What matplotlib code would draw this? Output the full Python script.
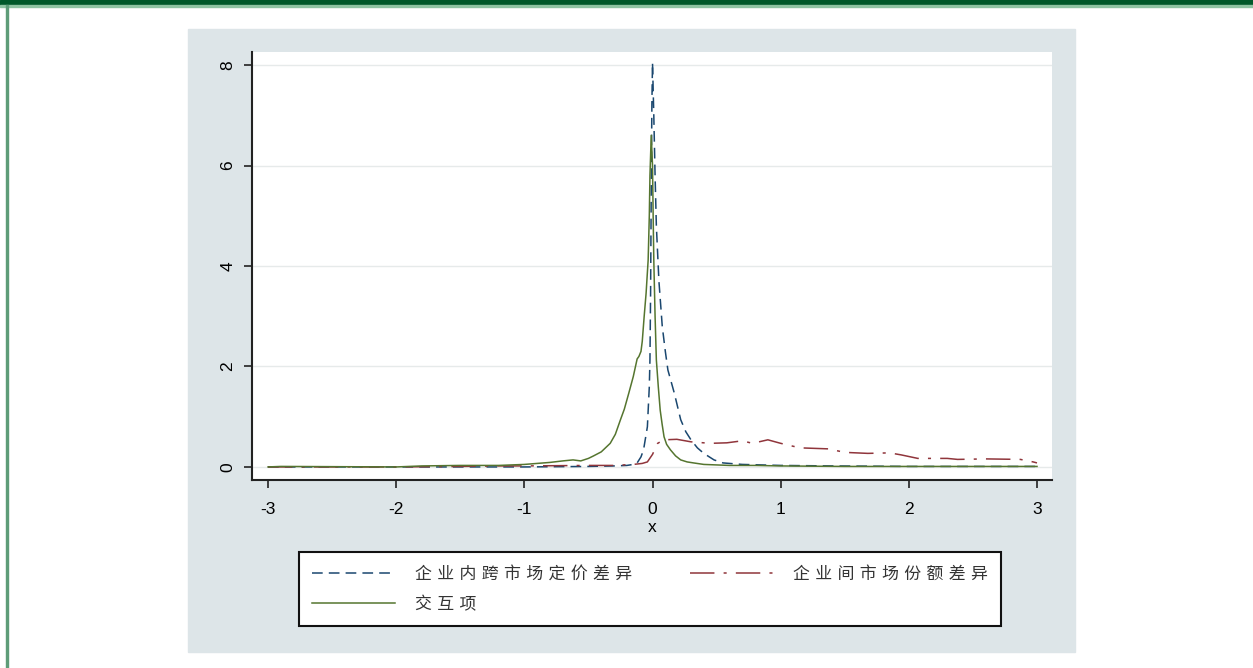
import numpy as np
import matplotlib
matplotlib.use("Agg")
import matplotlib.pyplot as plt
from matplotlib.patches import Rectangle

# dados (densidades)
x_preco = [-3.0, -1.0, -0.5, -0.3, -0.2, -0.15, -0.12, -0.09, -0.07, -0.04, -0.025, -0.02,
           -0.015, -0.01, -0.005, 0.0, 0.01, 0.02, 0.03, 0.05, 0.076, 0.1, 0.12, 0.17, 0.22,
           0.26, 0.30, 0.35, 0.40, 0.48, 0.55, 0.7, 1.0, 1.4, 2.0, 3.0]
y_preco = [0.0, 0.0, 0.01, 0.02, 0.03, 0.05, 0.08, 0.2, 0.34, 0.8, 1.6, 2.13,
           3.46, 5.5, 7.2, 8.05, 7.0, 5.8, 4.8, 3.7, 2.8, 2.3, 1.93, 1.47, 0.94,
           0.7, 0.54, 0.38, 0.27, 0.14, 0.08, 0.05, 0.03, 0.02, 0.01, 0.01]

x_share = [-3.0, -2.0, -1.5, -1.2, -1.0, -0.5, -0.3, -0.15, -0.08, -0.04, 0.0, 0.04, 0.09,
           0.19, 0.3, 0.45, 0.58, 0.7, 0.78, 0.9, 1.0, 1.15, 1.37, 1.5, 1.68, 1.85, 1.94,
           2.07, 2.3, 2.38, 2.6, 2.87, 2.97, 3.0]
y_share = [0.0, 0.0, 0.01, 0.02, 0.02, 0.03, 0.03, 0.05, 0.07, 0.1, 0.25, 0.47, 0.54,
           0.55, 0.5, 0.47, 0.48, 0.52, 0.47, 0.54, 0.47, 0.38, 0.36, 0.29, 0.27, 0.28, 0.24,
           0.17, 0.17, 0.15, 0.16, 0.15, 0.1, 0.08]

x_inter = [-3.0, -2.9, -2.0, -1.8, -1.5, -1.2, -1.0, -0.9, -0.8, -0.7, -0.62, -0.56, -0.5,
           -0.46, -0.4, -0.33, -0.29, -0.25, -0.22, -0.185, -0.15, -0.12, -0.106, -0.09,
           -0.08, -0.065, -0.05, -0.034, -0.025, -0.02, -0.01, 0.0, 0.005, 0.01, 0.02, 0.03,
           0.045, 0.06, 0.075, 0.09, 0.11, 0.14, 0.18, 0.22, 0.27, 0.32, 0.4, 0.6, 0.8, 1.0,
           1.5, 2.0, 3.0]
y_inter = [0.0, 0.01, 0.0, 0.02, 0.03, 0.03, 0.05, 0.07, 0.09, 0.12, 0.14, 0.12, 0.17,
           0.22, 0.3, 0.47, 0.65, 0.94, 1.15, 1.47, 1.8, 2.15, 2.2, 2.3,
           2.5, 3.0, 3.46, 4.12, 5.0, 5.8, 6.6, 6.0, 5.0, 4.12, 3.0, 2.13,
           1.6, 1.13, 0.85, 0.6, 0.45, 0.34, 0.22, 0.14, 0.1, 0.08, 0.05, 0.03, 0.03, 0.02,
           0.01, 0.01, 0.01]

rotulos = ["企 业 内 跨 市 场 定 价 差 异", "交 互 项", "企 业 间 市 场 份 额 差 异"]
xticks = [-3, -2, -1, 0, 1, 2, 3]
yticks = [0, 2, 4, 6, 8]

W, H = 1253, 668
fig = plt.figure(figsize=(W / 100, H / 100), dpi=100)

# moldura da pagina
fig.patches.append(Rectangle((0, 1 - 5 / H), 1, 5 / H, transform=fig.transFigure,
                             color="#01592a", zorder=-2))
fig.patches.append(Rectangle((0, 1 - 6.5 / H), 1, 1.5 / H, transform=fig.transFigure,
                             color="#8fc4a2", zorder=-2))
fig.patches.append(Rectangle((5.5 / W, 0), 2 / W, 1 - 5 / H, transform=fig.transFigure,
                             color="#5e9c78", zorder=-2))
# fundo do grafico (estilo stata)
fig.patches.append(Rectangle((188 / W, 1 - 652 / H), (1075 - 188) / W, (652 - 29) / H,
                             transform=fig.transFigure, color="#dde5e8", zorder=-2))

ax = fig.add_axes([252 / W, 1 - 480 / H, 800 / W, 428 / H])
ax.set_zorder(1)
ax.set_facecolor("white")

l1, = ax.plot(x_preco, y_preco, color="#1a476f", lw=1.1, linestyle=(0, (7, 4)))
l2, = ax.plot(x_share, y_share, color="#90353b", lw=1.1, linestyle=(0, (16, 6, 2, 6)))
l3, = ax.plot(x_inter, y_inter, color="#55752f", lw=1.1)

ax.set_xlim(-3.125, 3.117)
ax.set_ylim(-0.26, 8.26)
ax.set_xticks(xticks)
ax.set_yticks(yticks)
ax.set_xticklabels([str(t) for t in xticks], fontsize=12.5, family="Liberation Sans")
ax.set_yticklabels([str(t) for t in yticks], fontsize=12.5, family="Liberation Sans",
                   rotation=90, va="center")
ax.tick_params(axis="both", direction="out", length=6, width=1.2, color="#222222")
ax.tick_params(axis="x", pad=10)
ax.tick_params(axis="y", pad=6)
ax.grid(axis="y", color="#e6eaea", lw=1.0)
ax.set_axisbelow(True)
for s in ["top", "right"]:
    ax.spines[s].set_visible(False)
for s in ["left", "bottom"]:
    ax.spines[s].set_linewidth(1.5)
    ax.spines[s].set_color("#222222")
ax.set_xlabel("x", fontsize=12.5, family="Liberation Sans", labelpad=2)

leg = fig.legend([l1, l3, l2], rotulos, loc="upper left",
                 bbox_to_anchor=(299 / W, 1 - 552 / H),
                 ncol=2, borderaxespad=0, fancybox=False,
                 prop={"family": ["DejaVu Sans", "Noto Sans CJK SC"], "size": 12.2},
                 handlelength=4.9, handletextpad=1.2, labelspacing=0.75, borderpad=0.75,
                 columnspacing=3.4, labelcolor="#333333")
leg.get_frame().set_edgecolor("#111111")
leg.get_frame().set_linewidth(1.5)
leg.get_frame().set_alpha(1)
leg.set_zorder(2)

fig.savefig("out.png", dpi=100)
